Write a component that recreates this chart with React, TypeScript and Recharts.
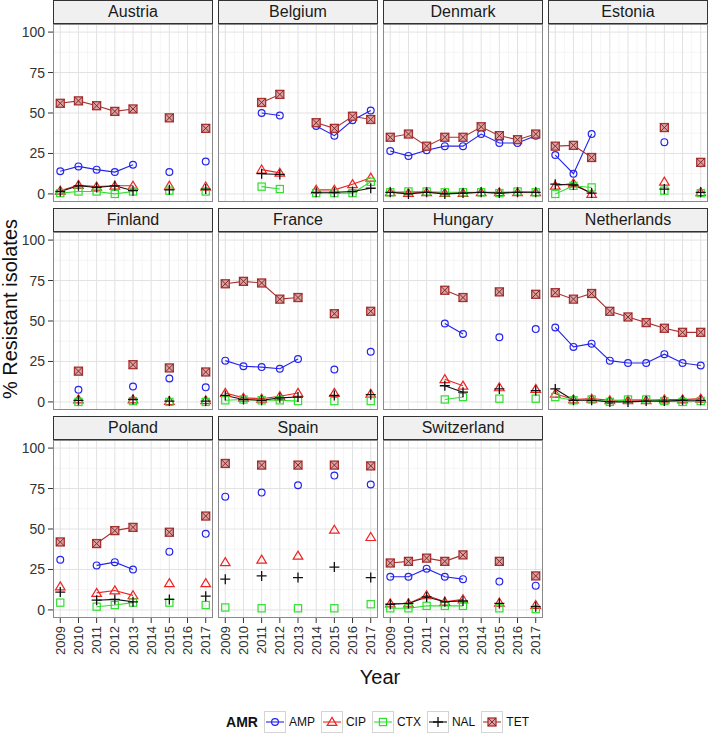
import { LineChart, Line, XAxis, YAxis, CartesianGrid } from 'recharts';

const YEARS = [2009, 2010, 2011, 2012, 2013, 2014, 2015, 2016, 2017];
const DRUGS = ['AMP', 'CIP', 'CTX', 'NAL', 'TET'];
const Y_TICKS = [0, 25, 50, 75, 100];
const Y_MINOR = [12.5, 37.5, 62.5, 87.5];
const X_MINOR = [2009.5, 2010.5, 2011.5, 2012.5, 2013.5, 2014.5, 2015.5, 2016.5];

// % resistant isolates per country, one array per drug (null = no data that year)
const austriaAMP = [14, 17, 15, 13.5, 18, null, 13.5, null, 20];
const austriaCIP = [2, 5.5, 4.5, 5, 5, null, 5, null, 4.5];
const austriaCTX = [0.5, 1.5, 1.5, 0, 1.5, null, 2, null, 1.5];
const austriaNAL = [1.5, 5, 4, 5, 2, null, 2.5, null, 3];
const austriaTET = [56, 57.5, 54.5, 51, 52.5, null, 47, null, 40.5];

const belgiumAMP = [null, null, 50, 48.5, null, 42, 36, 45.5, 51.5];
const belgiumCIP = [null, null, 15, 13, null, 2.5, 2.5, 6, 10];
const belgiumCTX = [null, null, 4.5, 3, null, 0.5, 0.5, 0.5, 7.5];
const belgiumNAL = [null, null, 12.5, 12, null, 1, 1, 1.5, 3.5];
const belgiumTET = [null, null, 56.5, 61.5, null, 44, 40.5, 48, 46];

const denmarkAMP = [26.5, 23.5, 27, 29.5, 29.5, 37, 31.5, 31.5, 36];
const denmarkCIP = [1, 0.5, 1, 0.5, 0.5, 1, 1, 1, 1];
const denmarkCTX = [1, 1.5, 1.5, 1, 1, 1, 0.5, 1.5, 1];
const denmarkNAL = [1, 0, 1, 0, 0.5, 1, 0.5, 1, 1];
const denmarkTET = [35, 37, 29.5, 35, 35, 41.5, 36, 33.5, 37];

const estoniaAMP = [24, 12.5, 37, null, null, null, 32, null, 19];
const estoniaCIP = [5, 6.5, 0, null, null, null, 7.5, null, 1];
const estoniaCTX = [0, 5, 4, null, null, null, 2, null, 0.5];
const estoniaNAL = [6, 5.5, 0.5, null, null, null, 3, null, 1];
const estoniaTET = [29.5, 30, 22.5, null, null, null, 41, null, 19.5];

const finlandAMP = [null, 7.5, null, null, 9.5, null, 14.5, null, 9];
const finlandCIP = [null, 1.5, null, null, 1.5, null, 0.5, null, 1];
const finlandCTX = [null, 0, null, null, 0.5, null, 0, null, 0];
const finlandNAL = [null, 1, null, null, 1.5, null, 0.5, null, 0.5];
const finlandTET = [null, 19, null, null, 23, null, 21, null, 18.5];

const franceAMP = [25.5, 22, 21.5, 20.5, 26.5, null, 20, null, 31];
const franceCIP = [5.5, 2.5, 2, 3.5, 5.5, null, 5.5, null, 5];
const franceCTX = [1, 1.5, 1, 1, 0.5, null, 0.5, null, 0.5];
const franceNAL = [4, 1.5, 1, 2.5, 3, null, 4, null, 4.5];
const franceTET = [73, 74.5, 73.5, 63.5, 64.5, null, 54.5, null, 56];

const hungaryAMP = [null, null, null, 48.5, 42, null, 40, null, 45];
const hungaryCIP = [null, null, null, 14, 10, null, 9, null, 8];
const hungaryCTX = [null, null, null, 1.5, 3, null, 2, null, 2];
const hungaryNAL = [null, null, null, 10, 6, null, 8, null, 7];
const hungaryTET = [null, null, null, 69, 64.5, null, 68, null, 66.5];

const netherlandsAMP = [46, 34, 36, 25.5, 24, 24, 29.5, 24, 22.5];
const netherlandsCIP = [5, 1.5, 2, 1, 1, 1, 1.5, 1.5, 2];
const netherlandsCTX = [3, 1, 1.5, 0, 1.5, 1.5, 0.5, 0, 0.5];
const netherlandsNAL = [8, 1, 1, 0, 0, 0.5, 0.5, 1, 1];
const netherlandsTET = [67.5, 63.5, 67, 56, 52.5, 49, 45.5, 43, 43];

const polandAMP = [31, null, 27.5, 29.5, 25, null, 36, null, 47];
const polandCIP = [14.5, null, 10.5, 12, 9, null, 16.5, null, 16.5];
const polandCTX = [4.5, null, 2, 3, 4.5, null, 4.5, null, 3];
const polandNAL = [11, null, 6, 6.5, 5, null, 6.5, null, 8.5];
const polandTET = [42, null, 41, 49, 51, null, 48, null, 58];

const spainAMP = [70, null, 72.5, null, 77, null, 83, null, 77.5];
const spainCIP = [29.5, null, 31, null, 33.5, null, 49.5, null, 45];
const spainCTX = [1.5, null, 1, null, 1, null, 1, null, 3.5];
const spainNAL = [19, null, 21, null, 20, null, 26.5, null, 20];
const spainTET = [90.5, null, 89.5, null, 89.5, null, 89.5, null, 89];

const switzerlandAMP = [20.5, 20.5, 25.5, 20.5, 19, null, 17.5, null, 15];
const switzerlandCIP = [4, 4, 9, 5, 6.5, null, 4.5, null, 3];
const switzerlandCTX = [1, 1, 2.5, 2.5, 2.5, null, 1, null, 0.5];
const switzerlandNAL = [3.5, 4, 8, 5, 5.5, null, 4, null, 2];
const switzerlandTET = [29, 30, 32, 30, 34, null, 30, null, 21];

const PANELS = [
  { name: 'Austria', s: [austriaAMP, austriaCIP, austriaCTX, austriaNAL, austriaTET] },
  { name: 'Belgium', s: [belgiumAMP, belgiumCIP, belgiumCTX, belgiumNAL, belgiumTET] },
  { name: 'Denmark', s: [denmarkAMP, denmarkCIP, denmarkCTX, denmarkNAL, denmarkTET] },
  { name: 'Estonia', s: [estoniaAMP, estoniaCIP, estoniaCTX, estoniaNAL, estoniaTET] },
  { name: 'Finland', s: [finlandAMP, finlandCIP, finlandCTX, finlandNAL, finlandTET] },
  { name: 'France', s: [franceAMP, franceCIP, franceCTX, franceNAL, franceTET] },
  { name: 'Hungary', s: [hungaryAMP, hungaryCIP, hungaryCTX, hungaryNAL, hungaryTET] },
  { name: 'Netherlands', s: [netherlandsAMP, netherlandsCIP, netherlandsCTX, netherlandsNAL, netherlandsTET] },
  { name: 'Poland', s: [polandAMP, polandCIP, polandCTX, polandNAL, polandTET] },
  { name: 'Spain', s: [spainAMP, spainCIP, spainCTX, spainNAL, spainTET] },
  { name: 'Switzerland', s: [switzerlandAMP, switzerlandCIP, switzerlandCTX, switzerlandNAL, switzerlandTET] },
];

const COLORS: Record<string, string> = {
  AMP: '#2424ee',
  CIP: '#ee2424',
  CTX: '#2ee02e',
  NAL: '#111111',
  TET: '#a83232',
};

const FONT = '"Liberation Sans", Arial, Helvetica, sans-serif';
const PANEL_W = 160;
const PLOT_H = 178;
const STRIP_H = 24;
const COL_X0 = 53;
const COL_STEP = 165;
const ROW_STEP = 208;
const Y_AXIS_W = 53;
const X_AXIS_H = 42;

const Marker = ({ kind, x, y }: { kind: string; x: number; y: number }) => {
  const c = COLORS[kind];
  if (kind === 'AMP') return <circle cx={x} cy={y} r={3.4} fill="none" stroke={c} strokeWidth={1.2} />;
  if (kind === 'CIP')
    return <path d={`M${x},${y - 4.6} L${x + 4.8},${y + 3.4} L${x - 4.8},${y + 3.4} Z`} fill="none" stroke={c} strokeWidth={1.2} />;
  if (kind === 'CTX')
    return <rect x={x - 3.6} y={y - 3.6} width={7.2} height={7.2} fill="none" stroke={c} strokeWidth={1.2} />;
  if (kind === 'NAL')
    return <path d={`M${x - 5},${y} H${x + 5} M${x},${y - 5} V${y + 5}`} stroke={c} strokeWidth={1.3} fill="none" />;
  return (
    <g>
      <rect x={x - 4} y={y - 4} width={8} height={8} fill="#d9a3a3" stroke={c} strokeWidth={1.3} />
      <path d={`M${x - 4},${y - 4} L${x + 4},${y + 4} M${x + 4},${y - 4} L${x - 4},${y + 4}`} stroke="#7a1e1e" strokeWidth={0.9} />
    </g>
  );
};

const makeDot = (kind: string) => (p: any) => {
  const k = `${kind}-${p.index}`;
  if (p.value == null || p.cy == null || Number.isNaN(p.cy)) return <g key={k} />;
  return (
    <g key={k}>
      <Marker kind={kind} x={p.cx} y={p.cy} />
    </g>
  );
};

const XTick = ({ x, y, payload }: any) => (
  <text
    x={x}
    y={y}
    transform={`rotate(-90 ${x} ${y})`}
    textAnchor="end"
    dominantBaseline="central"
    fontSize={13}
    fontFamily={FONT}
    fill="#333"
  >
    {payload.value}
  </text>
);

const Panel = ({ idx }: { idx: number }) => {
  const panel = PANELS[idx];
  const col = idx % 4;
  const row = Math.floor(idx / 4);
  const isLeft = col === 0;
  const isBottom = row === 2;
  const left = COL_X0 + col * COL_STEP;
  const top = row * ROW_STEP;

  const data = YEARS.map((year, i) => {
    const r: Record<string, number | null> = { year };
    DRUGS.forEach((d, j) => {
      r[d] = panel.s[j][i];
    });
    return r;
  });

  return (
    <>
      <div
        style={{
          position: 'absolute',
          left,
          top,
          width: PANEL_W,
          height: STRIP_H,
          boxSizing: 'border-box',
          border: '1px solid #333',
          background: '#f0f0f0',
          fontFamily: FONT,
          fontSize: 16,
          color: '#1a1a1a',
          display: 'flex',
          alignItems: 'center',
          justifyContent: 'center',
        }}
      >
        {panel.name}
      </div>
      <div style={{ position: 'absolute', left: left - (isLeft ? Y_AXIS_W : 0), top: top + STRIP_H }}>
        <LineChart
          width={PANEL_W + (isLeft ? Y_AXIS_W : 0)}
          height={PLOT_H + (isBottom ? X_AXIS_H : 0)}
          data={data}
          margin={{ top: 0, right: 0, bottom: 0, left: 0 }}
        >
          <CartesianGrid stroke="#f2f2f2" strokeWidth={0.8} horizontalValues={Y_MINOR} verticalValues={X_MINOR} />
          <CartesianGrid stroke="#e2e2e2" strokeWidth={1} horizontalValues={Y_TICKS} verticalValues={YEARS} />
          <XAxis
            dataKey="year"
            type="number"
            domain={[2008.6, 2017.4]}
            ticks={YEARS}
            hide={!isBottom}
            height={X_AXIS_H}
            axisLine={false}
            tickSize={5}
            tickMargin={3}
            tickLine={{ stroke: '#333' }}
            tick={<XTick />}
            interval={0}
          />
          <YAxis
            type="number"
            domain={[-5, 105]}
            ticks={Y_TICKS}
            hide={!isLeft}
            width={Y_AXIS_W}
            axisLine={false}
            tickSize={5}
            tickMargin={3}
            tickLine={{ stroke: '#333' }}
            tick={{ fontSize: 14, fill: '#333', fontFamily: FONT }}
            interval={0}
          />
          {DRUGS.map((d) => (
            <Line
              key={d}
              dataKey={d}
              type="linear"
              stroke={COLORS[d]}
              strokeWidth={1.1}
              dot={makeDot(d)}
              activeDot={false}
              isAnimationActive={false}
              connectNulls={false}
            />
          ))}
        </LineChart>
      </div>
      <div
        style={{
          position: 'absolute',
          left,
          top: top + STRIP_H,
          width: PANEL_W,
          height: PLOT_H,
          boxSizing: 'border-box',
          border: '1px solid #8a8a8a',
          pointerEvents: 'none',
        }}
      />
    </>
  );
};

const LegendKey = ({ kind }: { kind: string }) => (
  <svg width={22} height={22} style={{ display: 'block' }}>
    <rect x={0.5} y={0.5} width={21} height={21} fill="#fff" stroke="#d4d4d4" />
    <line x1={2} x2={20} y1={11} y2={11} stroke={COLORS[kind]} strokeWidth={1.1} />
    <Marker kind={kind} x={11} y={11} />
  </svg>
);

const App = () => (
  <div style={{ position: 'absolute', left: 0, top: 0, width: 709, height: 738, background: '#fff', overflow: 'hidden' }}>
    <svg width={709} height={738} style={{ position: 'absolute', left: 0, top: 0 }}>
      <text
        x={17}
        y={309}
        transform="rotate(-90 17 309)"
        textAnchor="middle"
        fontSize={20}
        fontFamily={FONT}
        fill="#111"
      >
        % Resistant isolates
      </text>
      <text x={380} y={684} textAnchor="middle" fontSize={20} fontFamily={FONT} fill="#111">
        Year
      </text>
    </svg>
    {PANELS.map((_, i) => (
      <Panel key={i} idx={i} />
    ))}
    <div
      style={{
        position: 'absolute',
        left: 53,
        top: 711,
        width: 655,
        display: 'flex',
        justifyContent: 'center',
        alignItems: 'center',
        fontFamily: FONT,
        fontSize: 12,
        color: '#111',
      }}
    >
      <span style={{ fontWeight: 'bold', fontSize: 14, marginRight: 6 }}>AMR</span>
      {DRUGS.map((d) => (
        <span key={d} style={{ display: 'flex', alignItems: 'center', marginRight: 6 }}>
          <LegendKey kind={d} />
          <span style={{ marginLeft: 3 }}>{d}</span>
        </span>
      ))}
    </div>
  </div>
);

export default App;
